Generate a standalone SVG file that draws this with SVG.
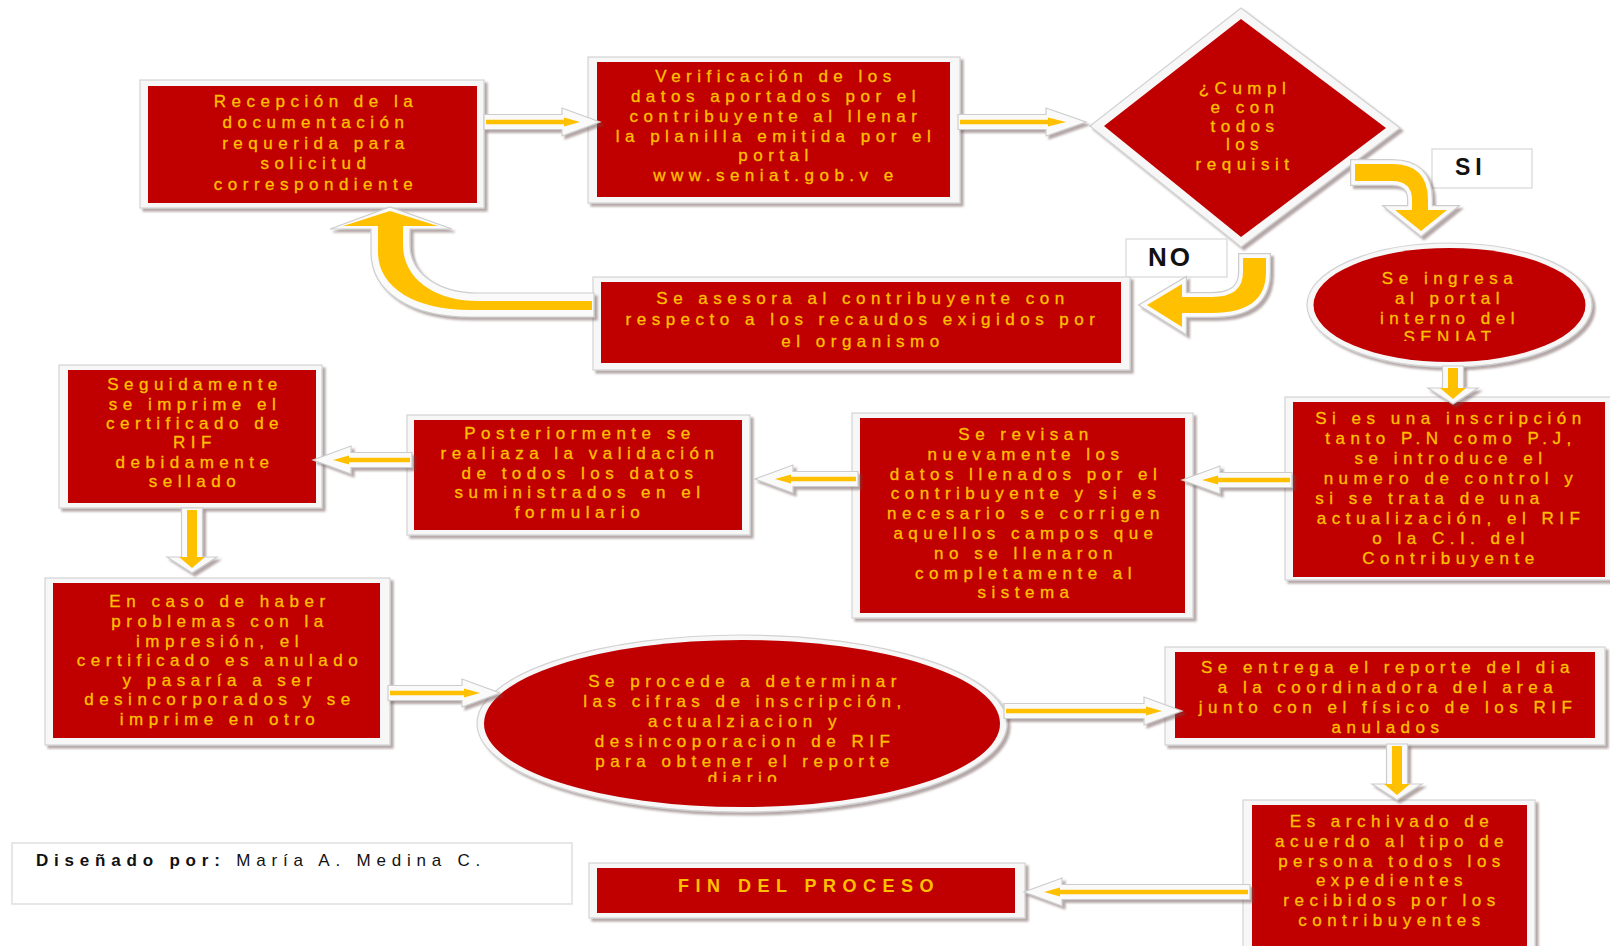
<svg xmlns="http://www.w3.org/2000/svg" width="1610" height="946" viewBox="0 0 1610 946">
<defs>
<filter id="sh" x="-10%" y="-10%" width="130%" height="140%"><feDropShadow dx="3" dy="3" stdDeviation="1.2" flood-color="#6b5050" flood-opacity="0.5"/></filter>
<clipPath id="c1"><rect x="1300" y="245" width="300" height="96"/></clipPath>
<clipPath id="c2"><rect x="480" y="636" width="525" height="146"/></clipPath>
<path id="siP" d="M1355,164 L1392,164 Q1428,164 1428,200 L1428,210 L1447,210 L1421,231 L1395,210 L1412,210 L1412,200 Q1412,181 1392,181 L1355,181 Z"/>
<path id="noP" d="M1243,258 L1266,258 L1266,272 Q1266,313 1212,313 L1182,313 L1182,327 L1147,305 L1182,284 L1182,297 L1212,297 Q1243,297 1243,272 Z"/>
</defs>
<style>
.fr{fill:#f7f7f7;stroke:#d2d2d2;stroke-width:1.2;filter:url(#sh)}
.rd{fill:#c00000}
.t{font-family:"Liberation Sans",Arial,sans-serif;font-size:17px;letter-spacing:5.5px;fill:#ffc000;stroke:#ffc000;stroke-width:0.3;text-anchor:middle}
.aw{fill:#fafafa;stroke:#cdcdcd;stroke-width:1.2;filter:url(#sh)}
.ay{fill:#ffc000}
.o1{fill:none;stroke:#cdcdcd;stroke-width:10;stroke-linejoin:miter;filter:url(#sh)}
.o2{fill:none;stroke:#fafafa;stroke-width:7.5;stroke-linejoin:miter}
.lb{fill:#ffffff;stroke:#d8d8d8;stroke-width:1.2}
.lt{font-family:"Liberation Sans",Arial,sans-serif;font-weight:bold;font-size:23px;fill:#111;letter-spacing:5px}
</style>
<rect width="1610" height="946" fill="#ffffff"/>

<g id="n1">
<rect class="fr" x="140" y="80" width="344" height="128"/>
<rect class="rd" x="148" y="86" width="329" height="117"/>
<text class="t" x="316" y="107">Recepción de la</text>
<text class="t" x="316" y="128">documentación</text>
<text class="t" x="316" y="149">requerida para</text>
<text class="t" x="316" y="169">solicitud</text>
<text class="t" x="316" y="190">correspondiente</text>
</g>

<g id="n2">
<rect class="fr" x="588" y="57" width="372" height="146"/>
<rect class="rd" x="597" y="62" width="353" height="135"/>
<text class="t" x="776" y="82">Verificación de los</text>
<text class="t" x="776" y="102">datos aportados por el</text>
<text class="t" x="776" y="122">contribuyente al llenar</text>
<text class="t" x="776" y="142">la planilla emitida por el</text>
<text class="t" x="776" y="161">portal</text>
<text class="t" x="776" y="181">www.seniat.gob.v e</text>
</g>

<g id="n3">
<polygon class="fr" points="1241,8 1400,128 1241,247 1090,126"/>
<polygon class="rd" points="1241,19 1386,128 1241,237 1104,126"/>
<text class="t" x="1245" y="94">¿Cumpl</text>
<text class="t" x="1245" y="113">e con</text>
<text class="t" x="1245" y="132">todos</text>
<text class="t" x="1245" y="150">los</text>
<text class="t" x="1245" y="170">requisit</text>
</g>

<g id="lbl-si">
<rect class="lb" x="1432" y="149" width="100" height="39"/>
<text class="lt" x="1455" y="175">SI</text>
</g>

<g id="lbl-no">
<rect class="lb" x="1126" y="239" width="101" height="38"/>
<text class="lt" x="1148" y="266" style="font-size:26px;letter-spacing:3px">NO</text>
</g>

<g id="n4">
<rect class="fr" x="593" y="277" width="537" height="93"/>
<rect class="rd" x="601" y="282" width="520" height="81"/>
<text class="t" x="863" y="304">Se asesora al contribuyente con</text>
<text class="t" x="863" y="325">respecto a los recaudos exigidos por</text>
<text class="t" x="863" y="347">el organismo</text>
</g>

<g id="n5">
<ellipse class="fr" cx="1449.5" cy="305" rx="142.5" ry="62"/>
<ellipse class="rd" cx="1449.5" cy="305" rx="136" ry="57"/>
<g clip-path="url(#c1)">
<text class="t" x="1450" y="284">Se ingresa</text>
<text class="t" x="1450" y="304">al portal</text>
<text class="t" x="1450" y="324">interno del</text>
<text class="t" x="1450" y="343">SENIAT</text>
</g>
</g>

<g id="n6">
<rect class="fr" x="1285" y="397" width="330" height="183"/>
<rect class="rd" x="1293" y="402" width="312" height="175"/>
<text class="t" x="1451" y="424">Si es una inscripción</text>
<text class="t" x="1451" y="444">tanto P.N como P.J,</text>
<text class="t" x="1451" y="464">se introduce el</text>
<text class="t" x="1451" y="484">numero de control y</text>
<text class="t" x="1430" y="504">si se trata de una</text>
<text class="t" x="1451" y="524">actualización, el RIF</text>
<text class="t" x="1451" y="544">o la C.I. del</text>
<text class="t" x="1451" y="564">Contribuyente</text>
</g>

<g id="n7">
<rect class="fr" x="852" y="413" width="341" height="205"/>
<rect class="rd" x="860" y="418" width="325" height="195"/>
<text class="t" x="1026" y="440">Se revisan</text>
<text class="t" x="1026" y="460">nuevamente los</text>
<text class="t" x="1026" y="480">datos llenados por el</text>
<text class="t" x="1026" y="499">contribuyente y si es</text>
<text class="t" x="1026" y="519">necesario se corrigen</text>
<text class="t" x="1026" y="539">aquellos campos que</text>
<text class="t" x="1026" y="559">no se llenaron</text>
<text class="t" x="1026" y="579">completamente  al</text>
<text class="t" x="1026" y="598">sistema</text>
</g>

<g id="n8">
<rect class="fr" x="407" y="415" width="343" height="120"/>
<rect class="rd" x="414" y="420" width="328" height="110"/>
<text class="t" x="580" y="439">Posteriormente se</text>
<text class="t" x="580" y="459">realiaza la validación</text>
<text class="t" x="580" y="479">de todos los datos</text>
<text class="t" x="580" y="498">suministrados en el</text>
<text class="t" x="580" y="518">formulario</text>
</g>

<g id="n9">
<rect class="fr" x="59" y="365" width="263" height="143"/>
<rect class="rd" x="68" y="370" width="248" height="133"/>
<text class="t" x="195" y="390">Seguidamente</text>
<text class="t" x="195" y="410">se imprime el</text>
<text class="t" x="195" y="429">certificado de</text>
<text class="t" x="195" y="448">RIF</text>
<text class="t" x="195" y="468">debidamente</text>
<text class="t" x="195" y="487">sellado</text>
</g>

<g id="n10">
<rect class="fr" x="45" y="578" width="345" height="167"/>
<rect class="rd" x="53" y="583" width="327" height="155"/>
<text class="t" x="220" y="607">En caso de haber</text>
<text class="t" x="220" y="627">problemas con la</text>
<text class="t" x="220" y="647">impresión, el</text>
<text class="t" x="220" y="666">certificado es anulado</text>
<text class="t" x="220" y="686">y pasaría  a ser</text>
<text class="t" x="220" y="705">desincorporados y se</text>
<text class="t" x="220" y="725">imprime en otro</text>
</g>

<g id="n11">
<ellipse class="fr" cx="742" cy="723.5" rx="265" ry="88.5"/>
<ellipse class="rd" cx="742" cy="723.5" rx="258" ry="83.5"/>
<g clip-path="url(#c2)">
<text class="t" x="745" y="687">Se procede a determinar</text>
<text class="t" x="745" y="707">las cifras de inscripción,</text>
<text class="t" x="745" y="727">actualziacion y</text>
<text class="t" x="745" y="747">desincoporacion de RIF</text>
<text class="t" x="745" y="767">para obtener el reporte</text>
<text class="t" x="745" y="784">diario</text>
</g>
</g>

<g id="n12">
<rect class="fr" x="1165" y="647" width="440" height="98"/>
<rect class="rd" x="1175" y="652" width="420" height="86"/>
<text class="t" x="1388" y="673">Se entrega el reporte del dia</text>
<text class="t" x="1388" y="693">a la coordinadora del area</text>
<text class="t" x="1388" y="713">junto con el físico de los RIF</text>
<text class="t" x="1388" y="733">anulados</text>
</g>

<g id="n13">
<rect class="fr" x="1243" y="800" width="292" height="155"/>
<rect class="rd" x="1252" y="805" width="275" height="145"/>
<text class="t" x="1392" y="827">Es archivado de</text>
<text class="t" x="1392" y="847">acuerdo al tipo de</text>
<text class="t" x="1392" y="867">persona todos los</text>
<text class="t" x="1392" y="886">expedientes</text>
<text class="t" x="1392" y="906">recibidos por los</text>
<text class="t" x="1392" y="926">contribuyentes</text>
</g>

<g id="n14">
<rect class="fr" x="589" y="863" width="436" height="55"/>
<rect class="rd" x="597" y="868" width="418" height="45"/>
<text class="t" x="809" y="892" style="font-weight:bold;font-size:18px;letter-spacing:6.5px;stroke-width:0">FIN DEL PROCESO</text>
</g>

<g id="credit">
<rect class="lb" x="12" y="843" width="560" height="61"/>
<text x="36" y="866" style="font-family:'Liberation Sans',Arial,sans-serif;font-size:17px;letter-spacing:5.8px;fill:#111"><tspan font-weight="bold">Diseñado por:</tspan> María A. Medina C.</text>
</g>

<g id="connectors">
<polygon class="aw" points="484,114.5 562,114.5 562,108 600,122 562,136 562,129.5 484,129.5"/>
<polygon class="ay" points="486,119.8 564,119.8 564,117.5 580,122 564,126.5 564,124.2 486,124.2"/>

<polygon class="aw" points="958,114.5 1046,114.5 1046,108 1086,122 1046,136 1046,129.5 958,129.5"/>
<polygon class="ay" points="960,119.8 1048,119.8 1048,117.5 1066,122 1048,126.5 1048,124.2 960,124.2"/>

<use href="#siP" class="o1"/><use href="#siP" class="o2"/><use href="#siP" class="ay"/>
<use href="#noP" class="o1"/><use href="#noP" class="o2"/><use href="#noP" class="ay"/>

<path class="aw" d="M371,229 L371,252 C371,292 410,317 470,317 L594,317 L594,293 L478,293 C438,293 410,273 410,245 L410,229 L452,229 L390,207 L330,229 Z"/>
<path class="ay" d="M378,226 L378,252 C378,287 414,310 470,310 L592,310 L592,301 L478,301 C435,301 403,279 403,245 L403,226 L438,226 L390,211 L343,226 Z"/>

<polygon class="aw" points="1442.5,366 1463.5,366 1463.5,388 1478,388 1453,404 1428,388 1442.5,388"/>
<polygon class="ay" points="1448,368 1458,368 1458,388 1466,388 1453,399 1440,388 1448,388"/>

<polygon class="aw" points="1292,472.5 1220,472.5 1220,466 1182,480 1220,494 1220,487.5 1292,487.5"/>
<polygon class="ay" points="1290,477.8 1218,477.8 1218,475.5 1202,480 1218,484.5 1218,482.2 1290,482.2"/>

<polygon class="aw" points="858,471.5 793,471.5 793,465 755,479 793,493 793,486.5 858,486.5"/>
<polygon class="ay" points="856,476.8 791,476.8 791,474.5 775,479 791,483.5 791,481.2 856,481.2"/>

<polygon class="aw" points="412,452.5 351,452.5 351,446 313,460 351,474 351,467.5 412,467.5"/>
<polygon class="ay" points="410,457.8 349,457.8 349,455.5 333,460 349,464.5 349,462.2 410,462.2"/>

<polygon class="aw" points="181.5,508 202.5,508 202.5,557 217,557 192,573 167,557 181.5,557"/>
<polygon class="ay" points="187,510 197,510 197,557 205,557 192,568 179,557 187,557"/>

<polygon class="aw" points="388,685.5 462,685.5 462,679 500,693 462,707 462,700.5 388,700.5"/>
<polygon class="ay" points="390,690.8 464,690.8 464,688.5 480,693 464,697.5 464,695.2 390,695.2"/>

<polygon class="aw" points="1004,703.5 1144,703.5 1144,697 1182,711 1144,725 1144,718.5 1004,718.5"/>
<polygon class="ay" points="1006,708.8 1146,708.8 1146,706.5 1162,711 1146,715.5 1146,713.2 1006,713.2"/>

<polygon class="aw" points="1386.5,744 1407.5,744 1407.5,784 1422,784 1397,800 1372,784 1386.5,784"/>
<polygon class="ay" points="1392,746 1402,746 1402,784 1410,784 1397,795 1384,784 1392,784"/>

<polygon class="aw" points="1250,884.5 1062,884.5 1062,878 1024,892 1062,906 1062,899.5 1250,899.5"/>
<polygon class="ay" points="1248,889.8 1060,889.8 1060,887.5 1044,892 1060,896.5 1060,894.2 1248,894.2"/>
</g>
</svg>
